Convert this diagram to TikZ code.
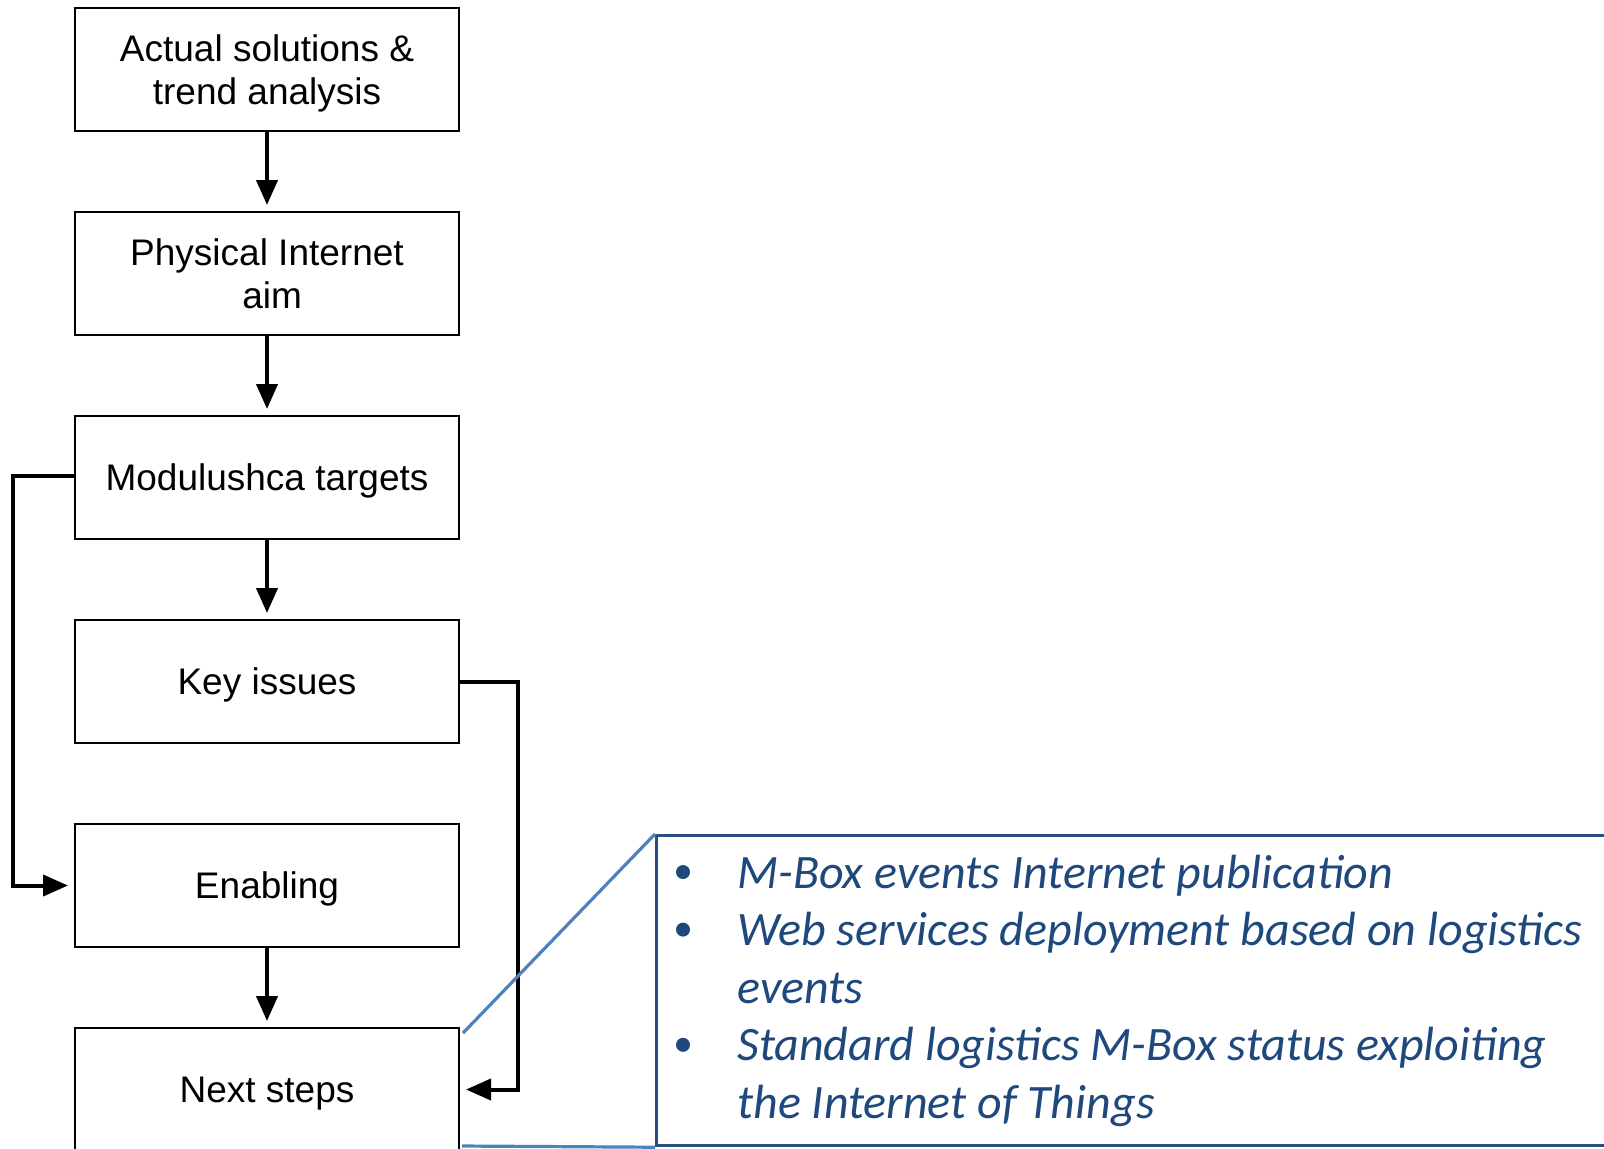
\documentclass[tikz,border=0pt]{standalone}
\usepackage{fontspec}
\usetikzlibrary{arrows.meta}
\newfontfamily\boxfont{Liberation Sans}
\newfontfamily\notefont{Carlito}
\definecolor{noteframe}{RGB}{42,78,130}
\definecolor{notetext}{RGB}{31,73,125}
\definecolor{wedgeblue}{RGB}{79,129,189}
% taller first line, so the text sits a little lower in its box
\newcommand\stagestrut{\rule{0pt}{17.3pt}}
\tikzset{
  stage/.style={draw=black, line width=1pt, minimum width=192pt, minimum height=61.5pt,
    align=center, font=\boxfont\fontsize{18.5}{21.5}\selectfont, inner sep=0pt},
  flow/.style={line width=2pt, -{Triangle[length=12.5pt,width=10.5pt]}, shorten >=3pt},
  notebox/.style={draw=noteframe, line width=1.6pt, minimum width=490pt, minimum height=155pt,
    inner sep=0pt, anchor=north west},
  noteline/.style={anchor=base west, text=notetext, inner sep=0pt,
    font=\notefont\itshape\fontsize{24}{28.8}\selectfont},
  notedot/.style={circle, fill=notetext, minimum size=7pt, inner sep=0pt},
  wedge/.style={draw=wedgeblue, line width=1.6pt}
}
\begin{document}
\begin{tikzpicture}[x=0.5pt, y=-0.5pt]
\useasboundingbox (0,0) rectangle (1604,1148);
\clip (0,0) rectangle (1604,1148);

% main chain of stages
\node[stage] (actual)  at (267,69.5)   {\stagestrut Actual solutions \&\\trend analysis};
\node[stage] (aim)     at (267,273.5)  {Physical Internet\\\ aim};
\node[stage] (targets) at (267,477.5)  {\stagestrut Modulushca targets};
\node[stage] (issues)  at (267,681.5)  {\stagestrut Key issues};
\node[stage] (enabling) at (267,885.5) {\stagestrut Enabling};
\node[stage] (next)    at (267,1089.5) {\stagestrut Next steps};

\draw[flow] (actual) -- (aim);
\draw[flow] (aim) -- (targets);
\draw[flow] (targets) -- (issues);
\draw[flow] (enabling) -- (next);

% side loops
\coordinate (lx) at (13,0);
\coordinate (rx) at (518,0);
\coordinate (tout) at ([yshift=1pt]targets.west);
\draw[flow] (tout) -- (lx |- tout) -- (lx |- enabling.west) -- (enabling.west);
\draw[flow] (issues.east) -- (rx |- issues.east) -- (rx |- next.east) -- (next.east);

% callout with the next steps
\node[notebox] (note) at (655,834) {};
\coordinate (wedgetop) at (463,1033);
\coordinate (wedgebottom) at (462,1146);
\draw[wedge] (wedgetop) -- (note.north west);
\draw[wedge] (wedgebottom) -- (note.south west);

\node[notedot] (d1) at (683,872) {};
\node[notedot] (d2) at (683,929.6) {};
\node[notedot] (d3) at (683,1044.8) {};
\node[noteline] (t1) at (737,888)    {M-Box events Internet publication};
\node[noteline] (t2) at (737,945.6)  {Web services deployment based on logistics};
\node[noteline] (t3) at (737,1003.2) {events};
\node[noteline] (t4) at (737,1060.8) {Standard logistics M-Box status exploiting};
\node[noteline] (t5) at (737,1118.4) {the Internet of Things};
\end{tikzpicture}
\end{document}
